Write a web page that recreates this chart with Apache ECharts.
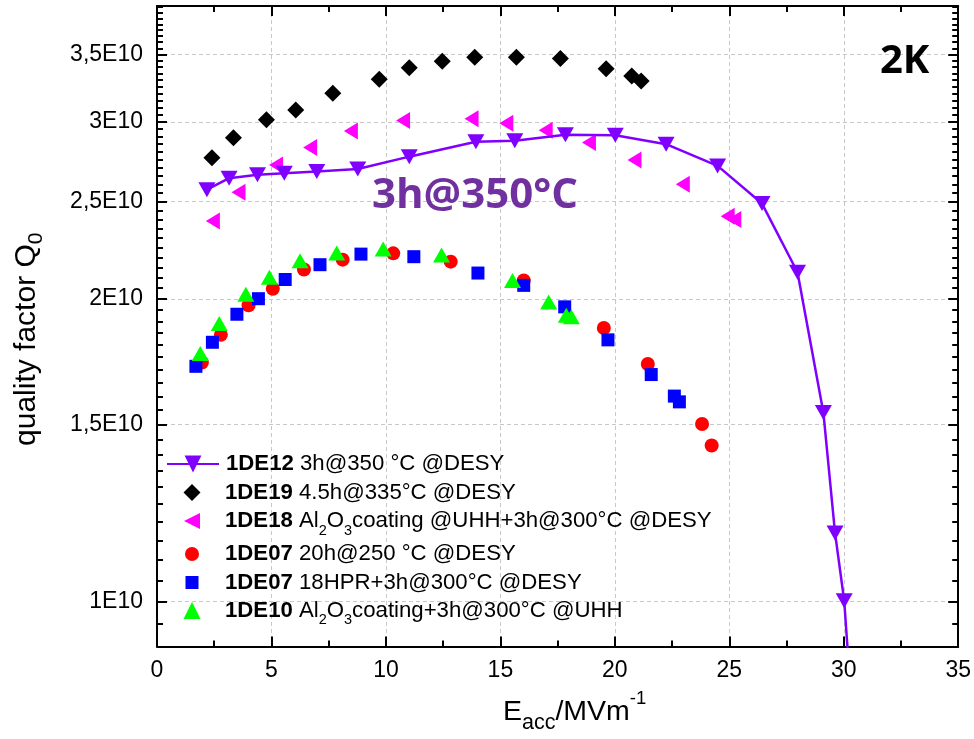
<!DOCTYPE html>
<html>
<head>
<meta charset="utf-8">
<title>Q0 vs Eacc at 2K</title>
<script src="https://cdn.jsdelivr.net/npm/echarts@6/dist/echarts.min.js"></script>
<style>
  html, body { margin: 0; padding: 0; background: #fff; }
  #chart { width: 974px; height: 739px; }
</style>
</head>
<body>
<div id="chart"></div>
<script>
// ---- measured data: accelerating gradient (MV/m) and Q0 (in units of 1E10) ----
const E_1DE12 = [2.18, 3.15, 4.39, 5.56, 6.98, 8.77, 11.02, 13.93, 15.63, 17.84, 20.02, 22.24, 24.49, 26.43, 27.98, 29.11, 29.62, 30.02, 30.24];
const Q_1DE12 = [2.568, 2.637, 2.657, 2.667, 2.677, 2.693, 2.770, 2.866, 2.872, 2.913, 2.909, 2.850, 2.712, 2.488, 2.126, 1.542, 1.170, 1.002, 0.85];

const E_1DE19 = [2.40, 3.34, 4.78, 6.06, 7.68, 9.71, 11.02, 12.46, 13.88, 15.70, 17.62, 19.62, 20.74, 21.15];
const Q_1DE19 = [2.763, 2.892, 3.015, 3.083, 3.202, 3.307, 3.396, 3.447, 3.478, 3.478, 3.469, 3.388, 3.332, 3.294];

const E_1DE18 = [2.44, 3.56, 5.20, 6.69, 8.47, 10.75, 13.74, 15.26, 16.98, 18.87, 20.86, 22.97, 24.93, 25.22];
const Q_1DE18 = [2.390, 2.553, 2.718, 2.828, 2.938, 3.009, 3.021, 2.991, 2.942, 2.861, 2.749, 2.601, 2.417, 2.399];

const E_1DE07_250 = [1.96, 2.79, 4.00, 5.06, 6.42, 8.11, 10.32, 12.83, 16.02, 19.52, 21.44, 23.81, 24.23];
const Q_1DE07_250 = [1.729, 1.842, 1.971, 2.047, 2.139, 2.188, 2.220, 2.178, 2.086, 1.871, 1.723, 1.502, 1.430];

const E_1DE07_HPR = [1.70, 2.42, 3.49, 4.43, 5.60, 7.12, 8.91, 11.22, 14.02, 16.02, 17.81, 19.70, 21.59, 22.60, 22.82];
const Q_1DE07_HPR = [1.714, 1.811, 1.931, 2.001, 2.091, 2.163, 2.216, 2.203, 2.122, 2.063, 1.964, 1.821, 1.682, 1.601, 1.580];

const E_1DE10 = [1.89, 2.72, 3.88, 4.91, 6.25, 7.85, 9.88, 12.43, 15.53, 17.11, 17.88, 18.10];
const Q_1DE10 = [1.765, 1.891, 2.021, 2.102, 2.183, 2.222, 2.242, 2.211, 2.086, 1.986, 1.927, 1.920];

const SERIES_NAMES = [
  '1DE12 3h@350 °C @DESY',
  '1DE19 4.5h@335°C @DESY',
  '1DE18 Al2O3coating @UHH+3h@300°C @DESY',
  '1DE07 20h@250 °C @DESY',
  '1DE07 18HPR+3h@300°C @DESY',
  '1DE10 Al2O3coating+3h@300°C @UHH'
];

// ---- axis ticks ----
const X_MIN = 0, X_MAX = 35, X_STEP = 5;
const Y_MIN = 0.9024e10, Y_MAX = 3.911e10;
const yTickValues = [1e10, 1.5e10, 2e10, 2.5e10, 3e10, 3.5e10];
const yTickLabels = ['1E10', '1,5E10', '2E10', '2,5E10', '3E10', '3,5E10'];
const yMinorValues = [];
for (let k = 19; k <= 78; k++) yMinorValues.push(Math.round(k * 5) * 1e8);

// ---- annotation texts ----
const TEMP_LABEL = '2K';
const BAKE_LABEL = '3h@350°C';

// ---- styling ----
const FONT = '"Liberation Sans", Arial, Helvetica, sans-serif';
const PURPLE = '#8000ff';
const GRID_LINE = { color: '#c8c8c8', width: 1, type: [4, 3] };
const AXIS_LINE = { color: '#000', width: 2 };
const LEFT_TRIANGLE = 'path://M0,6 L12,0 L12,12 Z';
const LEGEND_FONT_SIZE = 22.2;

function pairs(xs, qs) {
  return xs.map((x, i) => [x, qs[i] * 1e10]);
}

function yLabel(v) {
  const i = yTickValues.findIndex(t => Math.abs(t - v) / t < 1e-6);
  return i >= 0 ? yTickLabels[i] : '';
}

// legend label: bold sample id, regular description, subscripts in Al2O3
function legendText(name) {
  const sp = name.indexOf(' ');
  const id = name.slice(0, sp);
  const rest = name.slice(sp);
  const body = rest.split('Al2O3')
    .map(p => (p ? '{t|' + p + '}' : ''))
    .join('{t|Al}{s|2}{t|O}{s|3}');
  return '{b|' + id + '}' + body;
}

function legendRich(padLeft) {
  return {
    b: { fontFamily: FONT, fontSize: LEGEND_FONT_SIZE, fontWeight: 'bold', color: '#000', lineHeight: 22, padding: [0, 0, 0, padLeft] },
    t: { fontFamily: FONT, fontSize: LEGEND_FONT_SIZE, color: '#000', lineHeight: 22 },
    s: { fontFamily: FONT, fontSize: 14.5, color: '#000', height: 3, verticalAlign: 'bottom' }
  };
}

// legend layout: row centres, icon sizes, icon centre and text start
const LEGEND_ROW_Y = [464, 492.5, 521, 554, 582.5, 610.5];
const LEGEND_ICON_H = [21, 17, 16, 14, 13, 17];
const LEGEND_ICON = [null, null, LEFT_TRIANGLE, null, null, null];
const LEGEND_ICON_CX = 192, LEGEND_TEXT_X = 225, LINE_ICON_W = 52;

function legendDef(i) {
  const isLine = i === 0;
  const h = LEGEND_ICON_H[i];
  const w = isLine ? LINE_ICON_W : h;
  const left = LEGEND_ICON_CX - w / 2;
  const padLeft = Math.max(0, LEGEND_TEXT_X - (left + w + 5));
  const item = { name: SERIES_NAMES[i] };
  if (LEGEND_ICON[i]) item.icon = LEGEND_ICON[i];
  return {
    data: [item],
    orient: 'vertical',
    left: left,
    top: LEGEND_ROW_Y[i] - Math.max(h, 22) / 2,
    padding: 0,
    itemGap: 0,
    itemWidth: w,
    itemHeight: h,
    selectedMode: false,
    formatter: legendText,
    textStyle: { fontFamily: FONT, fontSize: LEGEND_FONT_SIZE, color: '#000', rich: legendRich(padLeft) }
  };
}

function xAxisDef(pos, primary) {
  return {
    type: 'value', min: X_MIN, max: X_MAX, interval: X_STEP, position: pos,
    axisLine: { show: true, onZero: false, lineStyle: AXIS_LINE },
    axisTick: { show: true, inside: true, length: 10, lineStyle: { color: '#000', width: 2 } },
    minorTick: { show: true, splitNumber: 2, length: 6, lineStyle: { color: '#000', width: 2 } },
    axisLabel: { show: primary, color: '#000', fontFamily: FONT, fontSize: 23, margin: 13 },
    splitLine: { show: primary, lineStyle: GRID_LINE },
    name: primary ? '{m|E}{s|acc}{m|/MVm}{p|-1}' : '',
    nameLocation: 'middle',
    nameGap: 51,
    nameTextStyle: {
      padding: [0, 0, 0, 34],
      rich: {
        m: { fontFamily: FONT, fontSize: 28.5, color: '#000', lineHeight: 30 },
        s: { fontFamily: FONT, fontSize: 21.5, color: '#000', height: 9, verticalAlign: 'bottom' },
        p: { fontFamily: FONT, fontSize: 18.5, color: '#000', height: 2, verticalAlign: 'top' }
      }
    }
  };
}

function yAxisDef(pos, major) {
  const primary = major && pos === 'left';
  return {
    type: 'log', logBase: 10, min: Y_MIN, max: Y_MAX, position: pos,
    axisLine: { show: major, onZero: false, lineStyle: AXIS_LINE },
    axisTick: {
      show: true, inside: true, length: major ? 10 : 6,
      customValues: major ? yTickValues : yMinorValues,
      lineStyle: { color: '#000', width: 2 }
    },
    minorTick: { show: false },
    axisLabel: {
      show: primary, customValues: yTickValues, formatter: yLabel,
      color: '#000', fontFamily: FONT, fontSize: 23, margin: 14
    },
    splitLine: { show: primary, lineStyle: GRID_LINE },
    name: primary ? '{m|quality factor Q}{s|0}' : '',
    nameLocation: 'middle',
    nameGap: 115,
    nameTextStyle: {
      padding: [0, 26, 0, 0],
      rich: {
        m: { fontFamily: FONT, fontSize: 30, color: '#000', lineHeight: 31 },
        s: { fontFamily: FONT, fontSize: 21, color: '#000', height: 12, verticalAlign: 'bottom' }
      }
    }
  };
}

const chart = echarts.init(document.getElementById('chart'), null, { renderer: 'canvas' });

chart.setOption({
  animation: false,
  backgroundColor: '#fff',
  grid: { left: 157, top: 6, right: 15, bottom: 86, containLabel: false },
  xAxis: [xAxisDef('bottom', true), xAxisDef('top', false)],
  yAxis: [yAxisDef('left', true), yAxisDef('left', false), yAxisDef('right', true), yAxisDef('right', false)],
  legend: SERIES_NAMES.map((nm, i) => legendDef(i)),
  graphic: [
    {
      type: 'text', left: 880, top: 42, z: 10,
      style: { text: TEMP_LABEL, font: 'bold 40px "Open Sans", ' + FONT, fill: '#000' }
    },
    {
      type: 'text', left: 372, top: 175, z: 10,
      style: { text: BAKE_LABEL, font: 'bold 42px "Open Sans", ' + FONT, fill: '#7030a0' }
    }
  ],
  series: [
    {
      name: SERIES_NAMES[0], type: 'line', data: pairs(E_1DE12, Q_1DE12),
      symbol: 'triangle', symbolRotate: 180, symbolSize: [17, 15],
      lineStyle: { color: PURPLE, width: 2.5 }, itemStyle: { color: PURPLE },
      clip: true
    },
    {
      name: SERIES_NAMES[1], type: 'scatter', data: pairs(E_1DE19, Q_1DE19),
      symbol: 'diamond', symbolSize: [17, 17], itemStyle: { color: '#000', opacity: 1 }
    },
    {
      name: SERIES_NAMES[2], type: 'scatter', data: pairs(E_1DE18, Q_1DE18),
      symbol: 'triangle', symbolRotate: 90, symbolSize: [17, 14], itemStyle: { color: '#ff00ff', opacity: 1 }
    },
    {
      name: SERIES_NAMES[3], type: 'scatter', data: pairs(E_1DE07_250, Q_1DE07_250),
      symbol: 'circle', symbolSize: 14, itemStyle: { color: '#ff0000', opacity: 1 }
    },
    {
      name: SERIES_NAMES[4], type: 'scatter', data: pairs(E_1DE07_HPR, Q_1DE07_HPR),
      symbol: 'rect', symbolSize: 13, itemStyle: { color: '#0000ff', opacity: 1 }
    },
    {
      name: SERIES_NAMES[5], type: 'scatter', data: pairs(E_1DE10, Q_1DE10),
      symbol: 'triangle', symbolSize: [17, 15], itemStyle: { color: '#00ff00', opacity: 1 }
    }
  ]
});
</script>
</body>
</html>
